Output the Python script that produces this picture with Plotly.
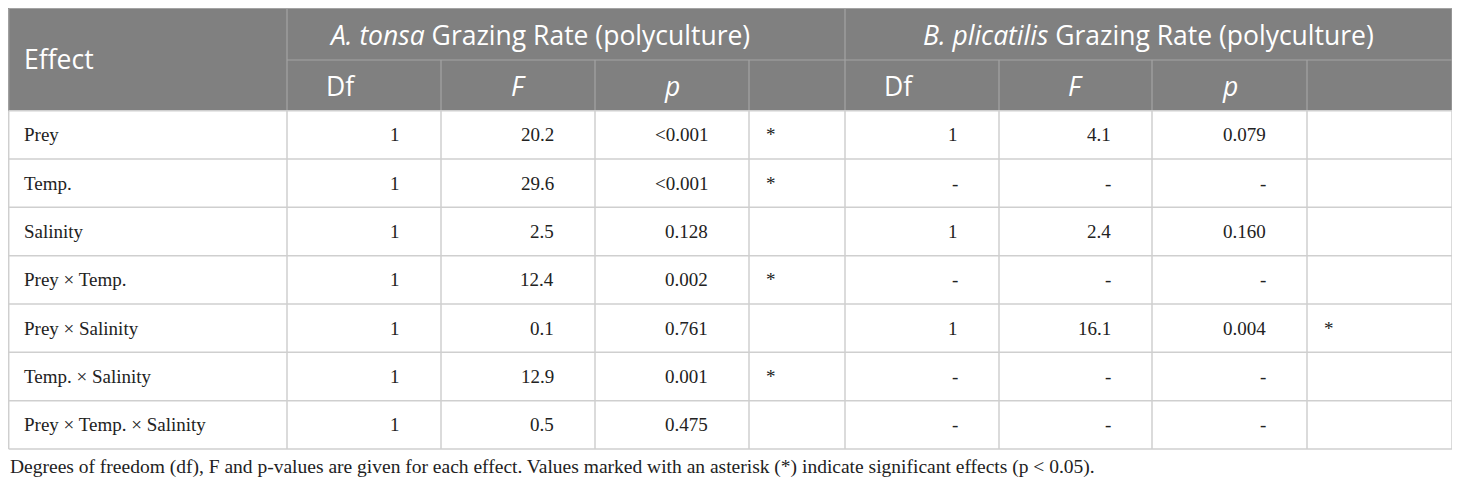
import plotly.graph_objects as go

# Table content
effects = ["Prey", "Temp.", "Salinity", "Prey × Temp.", "Prey × Salinity",
           "Temp. × Salinity", "Prey × Temp. × Salinity"]

tonsa_df = ["1", "1", "1", "1", "1", "1", "1"]
tonsa_f = ["20.2", "29.6", "2.5", "12.4", "0.1", "12.9", "0.5"]
tonsa_p = ["<0.001", "<0.001", "0.128", "0.002", "0.761", "0.001", "0.475"]
tonsa_sig = ["*", "*", "", "*", "", "*", ""]

plic_df = ["1", "-", "1", "-", "1", "-", "-"]
plic_f = ["4.1", "-", "2.4", "-", "16.1", "-", "-"]
plic_p = ["0.079", "-", "0.160", "-", "0.004", "-", "-"]
plic_sig = ["", "", "", "", "*", "", ""]

group_titles = ["<i>A. tonsa</i> Grazing Rate (polyculture)",
                "<i>B. plicatilis</i> Grazing Rate (polyculture)"]
sub_headers = ["Df", "<i>F</i>", "<i>p</i>", ""]

footnote = ("Degrees of freedom (df), F and p-values are given for each effect. "
            "Values marked with an asterisk (*) indicate significant effects (p < 0.05).")

# Geometry (page pixel coordinates; the page body has an 8px margin)
W, H = 1460, 486
OFF = 8
col_edges = [OFF + 0.7, 287, 441, 595, 749, 845, 999, 1152, 1307, 1452]
top, mid, head_bottom = 8.5, 60, 110.7
row_h = 48.33
row_edges = [head_bottom + i * row_h for i in range(len(effects) + 1)]

HEAD_FILL = "#808080"
HEAD_LINE = "#a3a3a3"
BODY_LINE = "#cfcfcf"
TEXT = "#222222"
SANS = "Open Sans"
SERIF = "Liberation Serif"
HEAD_SIZE = 26.5
BODY_SIZE = 19

fig = go.Figure()
fig.add_trace(go.Scatter(x=[OFF, W], y=[OFF, H], mode="markers",
                         marker=dict(opacity=0), hoverinfo="skip", showlegend=False))

shapes = []


def line(x0, y0, x1, y1, color, width=1.2):
    shapes.append(dict(type="line", x0=x0, y0=y0, x1=x1, y1=y1,
                       line=dict(color=color, width=width), layer="above"))


# header background
shapes.append(dict(type="rect", x0=OFF, y0=OFF, x1=col_edges[-1], y1=head_bottom,
                   fillcolor=HEAD_FILL, line=dict(width=0), layer="below"))

# header lines
line(col_edges[0], top, col_edges[-1], top, HEAD_LINE)
line(col_edges[1], mid, col_edges[-1], mid, HEAD_LINE)
for i, x in enumerate(col_edges):
    if i in (0, 1, 5, 9):
        line(x, top, x, head_bottom, HEAD_LINE)
    else:
        line(x, mid, x, head_bottom, HEAD_LINE)

# body lines
for y in row_edges:
    line(col_edges[0], y, col_edges[-1], y, BODY_LINE, 1.5)
for x in col_edges:
    line(x, row_edges[0], x, row_edges[-1], BODY_LINE, 1.5)

annotations = []


def text(x, y, s, anchor, font, size, color):
    annotations.append(dict(x=x, y=y, text=s, xanchor=anchor, yanchor="middle",
                            showarrow=False, font=dict(family=font, size=size, color=color)))


# header texts
text(22, (7 + head_bottom) / 2, "Effect", "left", SANS, HEAD_SIZE, "white")
text(327, (7 + mid) / 2 + 1, group_titles[0], "left", SANS, HEAD_SIZE, "white")
text((col_edges[5] + col_edges[9]) / 2, (7 + mid) / 2 + 1, group_titles[1],
     "center", SANS, HEAD_SIZE, "white")
for g in range(2):
    base = 1 + g * 4
    for j, s in enumerate(sub_headers):
        x0, x1 = col_edges[base + j], col_edges[base + j + 1]
        if j == 0:
            text(x0 + 37, (mid + head_bottom) / 2 + 1, s, "left", SANS, HEAD_SIZE, "white")
        elif s:
            text((x0 + x1) / 2, (mid + head_bottom) / 2 + 1, s, "center", SANS, HEAD_SIZE, "white")

# body texts
num_cols = [tonsa_df, tonsa_f, tonsa_p, None, plic_df, plic_f, plic_p, None]
sig_cols = {4: tonsa_sig, 8: plic_sig}
for r, name in enumerate(effects):
    yc = (row_edges[r] + row_edges[r + 1]) / 2
    text(22, yc, name, "left", SERIF, BODY_SIZE, TEXT)
    for c in range(1, 9):
        if c in sig_cols:
            s = sig_cols[c][r]
            if s:
                text(col_edges[c] + 15, yc, s, "left", SERIF, BODY_SIZE, TEXT)
        else:
            text(col_edges[c + 1] - 39, yc, num_cols[c - 1][r], "right", SERIF, BODY_SIZE, TEXT)

# footnote (anchor must stay inside the axis range)
text(OFF, 467, footnote, "left", SERIF, 19.5, TEXT)

fig.update_layout(
    width=W - OFF, height=H - OFF,
    margin=dict(l=0, r=0, t=0, b=0),
    paper_bgcolor="white", plot_bgcolor="white",
    xaxis=dict(range=[OFF, W], visible=False, fixedrange=True),
    yaxis=dict(range=[H, OFF], visible=False, fixedrange=True),
    shapes=shapes, annotations=annotations,
    showlegend=False,
)

fig.write_html("out.html")
